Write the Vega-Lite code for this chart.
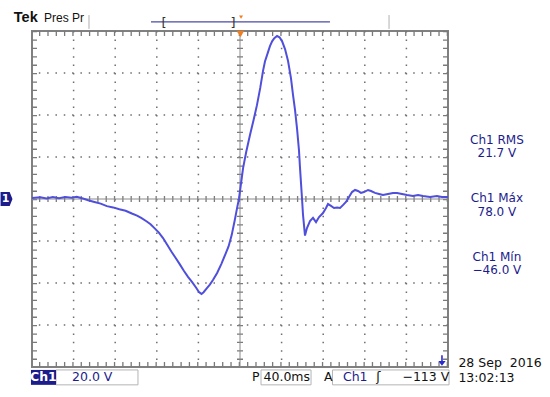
{
  "$schema": "https://vega.github.io/schema/vega-lite/v6.json",
  "width": 416,
  "height": 336,
  "autosize": "none",
  "padding": {"left": 32, "top": 31, "right": 102, "bottom": 30},
  "background": "white",
  "config": {"view": {"stroke": "#808080", "strokeWidth": 2}},
  "datasets": {
    "trace": [
      {"t": -200, "v": 0.5}, {"t": -192, "v": 0.8}, {"t": -186, "v": 0.3}, {"t": -180, "v": 0.9}, {"t": -174, "v": 0.4},
      {"t": -168, "v": 1.0}, {"t": -162, "v": 0.6}, {"t": -157, "v": 1.1}, {"t": -151, "v": 0.2}, {"t": -146, "v": -0.6},
      {"t": -140, "v": -1.4}, {"t": -134, "v": -2.2}, {"t": -128, "v": -3.4}, {"t": -122, "v": -4.0}, {"t": -116, "v": -4.9},
      {"t": -110, "v": -5.6}, {"t": -104, "v": -6.9}, {"t": -99, "v": -7.9}, {"t": -95, "v": -9.0}, {"t": -90, "v": -10.6},
      {"t": -86, "v": -12.0}, {"t": -82, "v": -14.0}, {"t": -78, "v": -16.0}, {"t": -74, "v": -18.6}, {"t": -70, "v": -21.8},
      {"t": -66, "v": -25.0}, {"t": -62, "v": -28.0}, {"t": -58, "v": -31.0}, {"t": -54, "v": -34.2}, {"t": -50, "v": -37.1},
      {"t": -46, "v": -39.6}, {"t": -42, "v": -42.4}, {"t": -39.5, "v": -44.3}, {"t": -37, "v": -45.2}, {"t": -35, "v": -44.4},
      {"t": -32, "v": -42.6}, {"t": -29, "v": -40.8}, {"t": -26, "v": -38.6}, {"t": -22, "v": -35.2}, {"t": -18, "v": -31.0},
      {"t": -14, "v": -26.2}, {"t": -11, "v": -22.6}, {"t": -8, "v": -17.2}, {"t": -5, "v": -10.0}, {"t": -2.5, "v": -3.5},
      {"t": -1, "v": 0}, {"t": 1, "v": 7.5}, {"t": 3, "v": 14.8}, {"t": 6, "v": 22.5}, {"t": 9.6, "v": 30.5},
      {"t": 13, "v": 37.5}, {"t": 16.3, "v": 44.7}, {"t": 19.5, "v": 53.0}, {"t": 22.1, "v": 60.9}, {"t": 24, "v": 65.5},
      {"t": 26, "v": 68.5}, {"t": 28.8, "v": 72.8}, {"t": 31, "v": 75.2}, {"t": 33, "v": 76.6}, {"t": 35.6, "v": 77.6},
      {"t": 38, "v": 77.0}, {"t": 40.4, "v": 75.2}, {"t": 43.3, "v": 71.4}, {"t": 46.2, "v": 65.7}, {"t": 49, "v": 57.6},
      {"t": 51, "v": 49.5}, {"t": 52.9, "v": 42.4}, {"t": 54.8, "v": 33.8}, {"t": 56.7, "v": 23.3}, {"t": 57.7, "v": 14.8},
      {"t": 59.6, "v": 0.5}, {"t": 60.6, "v": -7.6}, {"t": 62.5, "v": -17.4}, {"t": 64.4, "v": -13.8}, {"t": 67.3, "v": -10.5},
      {"t": 70.2, "v": -9.0}, {"t": 73.1, "v": -11.0}, {"t": 76, "v": -8.6}, {"t": 79.8, "v": -6.7}, {"t": 82.7, "v": -4.3},
      {"t": 84.6, "v": -2.4}, {"t": 87.5, "v": -3.3}, {"t": 90.4, "v": -4.3}, {"t": 93.3, "v": -4.0}, {"t": 96.2, "v": -4.3},
      {"t": 99, "v": -2.9}, {"t": 101.9, "v": -1.4}, {"t": 104.8, "v": 1.0}, {"t": 107.7, "v": 3.3}, {"t": 110.6, "v": 4.3},
      {"t": 113.5, "v": 3.8}, {"t": 116.3, "v": 2.9}, {"t": 119.2, "v": 3.3}, {"t": 123.1, "v": 4.3}, {"t": 126, "v": 3.8},
      {"t": 129.8, "v": 2.9}, {"t": 133.7, "v": 2.4}, {"t": 137.5, "v": 1.9}, {"t": 142.3, "v": 2.4}, {"t": 147.1, "v": 2.9},
      {"t": 151, "v": 2.9}, {"t": 155.8, "v": 2.4}, {"t": 160.6, "v": 1.9}, {"t": 166.3, "v": 1.4}, {"t": 171.2, "v": 1.9},
      {"t": 176, "v": 1.4}, {"t": 182.7, "v": 1.0}, {"t": 189.4, "v": 1.4}, {"t": 194.2, "v": 1.0}, {"t": 200, "v": 1.0}
    ],
    "vgrid": [{"t": -160}, {"t": -120}, {"t": -80}, {"t": -40}, {"t": 40}, {"t": 80}, {"t": 120}, {"t": 160}],
    "hgrid": [{"v": -60}, {"v": -40}, {"v": -20}, {"v": 20}, {"v": 40}, {"v": 60}],
    "vedge": [{"t": -200}, {"t": 200}],
    "hedge": [{"v": -80}, {"v": 80}],
    "vcenter": [{"t": 0}],
    "hcenter": [{"v": 0}],
    "rightText": [
      {"t": 247, "v": 28.3, "label": "Ch1 RMS"},
      {"t": 247, "v": 21.7, "label": "21.7 V"},
      {"t": 247, "v": 0.6, "label": "Ch1 Máx"},
      {"t": 247, "v": -6.0, "label": "78.0 V"},
      {"t": 247, "v": -27.4, "label": "Ch1 Mín"},
      {"t": 247, "v": -34.0, "label": "−46.0 V"}
    ],
    "outlineBoxes": [
      {"t1": -176.9, "t2": -98.1, "v1": -81.4, "v2": -88.5},
      {"t1": 20.2, "t2": 68.3, "v1": -81.4, "v2": -88.5},
      {"t1": 88.9, "t2": 201, "v1": -81.4, "v2": -88.5}
    ],
    "ch1Box": [{"t1": -201, "t2": -176.9, "v1": -81.4, "v2": -88.5}],
    "ch1Label": [{"t": -189, "v": -84.6, "label": "Ch1"}],
    "navyText": [
      {"t": -161.5, "v": -84.6, "label": "20.0 V"},
      {"t": 99, "v": -84.6, "label": "Ch1"}
    ],
    "blackText": [
      {"t": 11.5, "v": -84.6, "label": "P"},
      {"t": 22.6, "v": -84.6, "label": "40.0ms"},
      {"t": 80.8, "v": -84.6, "label": "A"},
      {"t": 131, "v": -84.6, "label": "ʃ"},
      {"t": 156.2, "v": -84.6, "label": "−113 V"},
      {"t": 210, "v": -78.1, "label": "28 Sep \u00a02016"},
      {"t": 210, "v": -85.0, "label": "13:02:13"}
    ],
    "tek": [{"t": -217.5, "v": 84.3, "label": "Tek"}],
    "pres": [{"t": -188.5, "v": 84.3, "label": "Pres Pr"}],
    "brackets": [{"t": -73.1, "v": 84, "label": "["}, {"t": -6.7, "v": 84, "label": "]"}],
    "topBar": [{"t1": -85.6, "t2": 86.5, "v": 84.3}],
    "grayTicks": [{"t": -145.2, "v1": 87.6, "v2": 81}, {"t": 143.3, "v1": 87.6, "v2": 81}],
    "orangeBig": [{"t": 0.5, "v": 78.6}],
    "orangeSmall": [{"t": 1, "v": 86.6}],
    "marker1": [{"t": -224.5, "v": 0, "label": "1"}],
    "trigArrow": [{"t": 194.2, "v": -76.9}]
  },
  "layer": [
    {
      "data": {"name": "vgrid"},
      "mark": {"type": "rule", "color": "#6e6e6e", "strokeWidth": 1.5, "strokeDash": [1.5, 6.9], "clip": true},
      "encoding": {
        "x": {"field": "t", "type": "quantitative", "scale": {"domain": [-200, 200], "nice": false, "zero": false}, "axis": null}
      }
    },
    {
      "data": {"name": "hgrid"},
      "mark": {"type": "rule", "color": "#6e6e6e", "strokeWidth": 1.5, "strokeDash": [1.5, 6.82], "clip": true},
      "encoding": {
        "y": {"field": "v", "type": "quantitative", "scale": {"domain": [-80, 80], "nice": false, "zero": false}, "axis": null}
      }
    },
    {
      "data": {"name": "vedge"},
      "mark": {"type": "rule", "color": "#7a7a7a", "strokeWidth": 10, "strokeDash": [1.3, 7.1], "clip": true},
      "encoding": {"x": {"field": "t", "type": "quantitative", "axis": null}}
    },
    {
      "data": {"name": "hedge"},
      "mark": {"type": "rule", "color": "#7a7a7a", "strokeWidth": 10, "strokeDash": [1.3, 7.02], "clip": true},
      "encoding": {"y": {"field": "v", "type": "quantitative", "axis": null}}
    },
    {
      "data": {"name": "vcenter"},
      "mark": {"type": "rule", "color": "#7a7a7a", "strokeWidth": 6, "strokeDash": [1.3, 7.1], "clip": true},
      "encoding": {"x": {"field": "t", "type": "quantitative", "axis": null}}
    },
    {
      "data": {"name": "vcenter"},
      "mark": {"type": "rule", "color": "#8a8a8a", "strokeWidth": 1},
      "encoding": {"x": {"field": "t", "type": "quantitative", "axis": null}}
    },
    {
      "data": {"name": "hcenter"},
      "mark": {"type": "rule", "color": "#7a7a7a", "strokeWidth": 6, "strokeDash": [1.3, 7.02], "clip": true},
      "encoding": {"y": {"field": "v", "type": "quantitative", "axis": null}}
    },
    {
      "data": {"name": "hcenter"},
      "mark": {"type": "rule", "color": "#8a8a8a", "strokeWidth": 1},
      "encoding": {"y": {"field": "v", "type": "quantitative", "axis": null}}
    },
    {
      "data": {"name": "trace"},
      "mark": {"type": "line", "color": "#4f4fdc", "strokeWidth": 2, "clip": true},
      "encoding": {
        "x": {"field": "t", "type": "quantitative", "axis": null},
        "y": {"field": "v", "type": "quantitative", "axis": null}
      }
    },
    {
      "data": {"name": "rightText"},
      "mark": {"type": "text", "color": "#1c1c8c", "font": "DejaVu Sans", "fontSize": 12, "align": "center", "baseline": "middle"},
      "encoding": {
        "x": {"field": "t", "type": "quantitative", "axis": null},
        "y": {"field": "v", "type": "quantitative", "axis": null},
        "text": {"field": "label"}
      }
    },
    {
      "data": {"name": "outlineBoxes"},
      "mark": {"type": "rect", "fill": null, "stroke": "#b4b4b4", "strokeWidth": 1},
      "encoding": {
        "x": {"field": "t1", "type": "quantitative", "axis": null},
        "x2": {"field": "t2"},
        "y": {"field": "v1", "type": "quantitative", "axis": null},
        "y2": {"field": "v2"}
      }
    },
    {
      "data": {"name": "ch1Box"},
      "mark": {"type": "rect", "color": "#1c1c8c"},
      "encoding": {
        "x": {"field": "t1", "type": "quantitative", "axis": null},
        "x2": {"field": "t2"},
        "y": {"field": "v1", "type": "quantitative", "axis": null},
        "y2": {"field": "v2"}
      }
    },
    {
      "data": {"name": "ch1Label"},
      "mark": {"type": "text", "color": "white", "font": "DejaVu Sans", "fontWeight": "bold", "fontSize": 12.5, "align": "center", "baseline": "middle"},
      "encoding": {
        "x": {"field": "t", "type": "quantitative", "axis": null},
        "y": {"field": "v", "type": "quantitative", "axis": null},
        "text": {"field": "label"}
      }
    },
    {
      "data": {"name": "navyText"},
      "mark": {"type": "text", "color": "#1c1c8c", "font": "DejaVu Sans", "fontSize": 12.5, "align": "left", "baseline": "middle"},
      "encoding": {
        "x": {"field": "t", "type": "quantitative", "axis": null},
        "y": {"field": "v", "type": "quantitative", "axis": null},
        "text": {"field": "label"}
      }
    },
    {
      "data": {"name": "blackText"},
      "mark": {"type": "text", "color": "#111111", "font": "DejaVu Sans", "fontSize": 12.5, "align": "left", "baseline": "middle"},
      "encoding": {
        "x": {"field": "t", "type": "quantitative", "axis": null},
        "y": {"field": "v", "type": "quantitative", "axis": null},
        "text": {"field": "label"}
      }
    },
    {
      "data": {"name": "tek"},
      "mark": {"type": "text", "color": "#111111", "font": "Liberation Sans", "fontWeight": "bold", "fontSize": 14.5, "align": "left", "baseline": "alphabetic"},
      "encoding": {
        "x": {"field": "t", "type": "quantitative", "axis": null},
        "y": {"field": "v", "type": "quantitative", "axis": null},
        "text": {"field": "label"}
      }
    },
    {
      "data": {"name": "pres"},
      "mark": {"type": "text", "color": "#111111", "font": "Liberation Sans", "fontSize": 12, "align": "left", "baseline": "alphabetic"},
      "encoding": {
        "x": {"field": "t", "type": "quantitative", "axis": null},
        "y": {"field": "v", "type": "quantitative", "axis": null},
        "text": {"field": "label"}
      }
    },
    {
      "data": {"name": "topBar"},
      "mark": {"type": "rule", "color": "#4a4aa6", "strokeWidth": 1.2},
      "encoding": {
        "x": {"field": "t1", "type": "quantitative", "axis": null},
        "x2": {"field": "t2"},
        "y": {"field": "v", "type": "quantitative", "axis": null}
      }
    },
    {
      "data": {"name": "brackets"},
      "mark": {"type": "text", "color": "#333333", "font": "DejaVu Sans", "fontSize": 13, "align": "center", "baseline": "middle"},
      "encoding": {
        "x": {"field": "t", "type": "quantitative", "axis": null},
        "y": {"field": "v", "type": "quantitative", "axis": null},
        "text": {"field": "label"}
      }
    },
    {
      "data": {"name": "grayTicks"},
      "mark": {"type": "rule", "color": "#b0b0b0", "strokeWidth": 1},
      "encoding": {
        "x": {"field": "t", "type": "quantitative", "axis": null},
        "y": {"field": "v1", "type": "quantitative", "axis": null},
        "y2": {"field": "v2"}
      }
    },
    {
      "data": {"name": "orangeBig"},
      "mark": {"type": "point", "shape": "triangle-down", "filled": true, "color": "#f07d1e", "size": 55, "opacity": 1},
      "encoding": {
        "x": {"field": "t", "type": "quantitative", "axis": null},
        "y": {"field": "v", "type": "quantitative", "axis": null}
      }
    },
    {
      "data": {"name": "orangeSmall"},
      "mark": {"type": "point", "shape": "triangle-down", "filled": true, "color": "#f07d1e", "size": 16, "opacity": 1},
      "encoding": {
        "x": {"field": "t", "type": "quantitative", "axis": null},
        "y": {"field": "v", "type": "quantitative", "axis": null}
      }
    },
    {
      "data": {"name": "marker1"},
      "mark": {"type": "point", "shape": "M-0.85,-1 L0.45,-1 L0.85,0 L0.45,1 L-0.85,1 Z", "filled": true, "color": "#1c1c8c", "size": 196, "opacity": 1},
      "encoding": {
        "x": {"field": "t", "type": "quantitative", "axis": null},
        "y": {"field": "v", "type": "quantitative", "axis": null}
      }
    },
    {
      "data": {"name": "marker1"},
      "mark": {"type": "text", "color": "white", "font": "DejaVu Sans", "fontWeight": "bold", "fontSize": 11, "align": "center", "baseline": "middle", "dx": -1},
      "encoding": {
        "x": {"field": "t", "type": "quantitative", "axis": null},
        "y": {"field": "v", "type": "quantitative", "axis": null},
        "text": {"field": "label"}
      }
    },
    {
      "data": {"name": "trigArrow"},
      "mark": {"type": "point", "shape": "M-0.15,-1 L0.15,-1 L0.15,0.1 L0.7,0.1 L0,1 L-0.7,0.1 L-0.15,0.1 Z", "filled": true, "color": "#2a2ad0", "size": 110, "opacity": 1},
      "encoding": {
        "x": {"field": "t", "type": "quantitative", "axis": null},
        "y": {"field": "v", "type": "quantitative", "axis": null}
      }
    }
  ]
}
